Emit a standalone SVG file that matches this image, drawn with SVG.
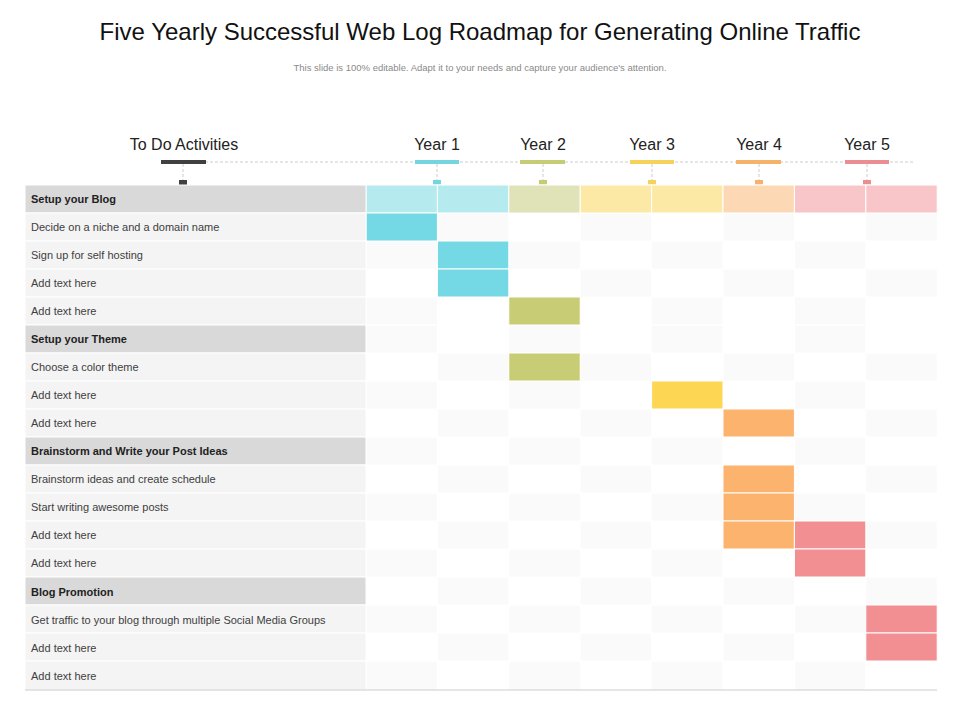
<svg xmlns="http://www.w3.org/2000/svg" width="960" height="720" viewBox="0 0 960 720">
<style>
text{font-family:"Liberation Sans",Arial,sans-serif}
.t{font-size:11px;fill:#404040}
.h{font-size:11px;font-weight:bold;fill:#222}
.y{font-size:16px;fill:#222;text-anchor:middle}
.lab{fill:#f4f4f4}
.hd{fill:#d9d9d9}
.a{fill:#fafafa}
.b{fill:#ffffff}
.tick{stroke:#ccc;stroke-dasharray:3 2;stroke-width:1}
</style>
<rect width="960" height="720" fill="#fff"/>
<text x="480" y="40" font-size="24" text-anchor="middle" fill="#111">Five Yearly Successful Web Log Roadmap for Generating Online Traffic</text>
<text x="480" y="71" font-size="9.5" text-anchor="middle" fill="#8a8a8a">This slide is 100% editable.  Adapt it to your needs and capture your audience's attention.</text>

<g id="timeline">
<line x1="205" y1="162" x2="915" y2="162" class="tick"/>
<text x="184" y="150" class="y">To Do Activities</text>
<rect x="161" y="160" width="45" height="4" fill="#404040"/>
<line x1="183" y1="164" x2="183" y2="180" class="tick"/><rect x="179" y="180" width="8" height="5" fill="#404040"/>
<text x="437" y="150" class="y">Year 1</text>
<rect x="415" y="160" width="44" height="4" fill="#74d4e0"/>
<line x1="437" y1="164" x2="437" y2="180" class="tick"/><rect x="433" y="180" width="8" height="5" fill="#74d4e0"/>
<text x="543" y="150" class="y">Year 2</text>
<rect x="520" y="160" width="45" height="4" fill="#c5cc76"/>
<line x1="543" y1="164" x2="543" y2="180" class="tick"/><rect x="539" y="180" width="8" height="5" fill="#c5cc76"/>
<text x="652" y="150" class="y">Year 3</text>
<rect x="630" y="160" width="44" height="4" fill="#f5d35a"/>
<line x1="652" y1="164" x2="652" y2="180" class="tick"/><rect x="648" y="180" width="8" height="5" fill="#f5d35a"/>
<text x="759" y="150" class="y">Year 4</text>
<rect x="736" y="160" width="45" height="4" fill="#f5b26a"/>
<line x1="759" y1="164" x2="759" y2="180" class="tick"/><rect x="755" y="180" width="8" height="5" fill="#f5b26a"/>
<text x="867" y="150" class="y">Year 5</text>
<rect x="845" y="160" width="44" height="4" fill="#ea8e92"/>
<line x1="867" y1="164" x2="867" y2="180" class="tick"/><rect x="863" y="180" width="8" height="5" fill="#ea8e92"/>
</g>

<g id="grid" stroke="#fff" stroke-width="1">
<rect x="366" y="185" width="571" height="505" fill="#fff"/>
<!-- checker -->
<g class="a">
<rect x="366" y="241" width="71.4" height="28"/><rect x="508.8" y="241" width="71.4" height="28"/><rect x="651.6" y="241" width="71.4" height="28"/><rect x="794.4" y="241" width="71.4" height="28"/>
<rect x="437.4" y="213" width="71.4" height="28"/><rect x="580.2" y="213" width="71.4" height="28"/><rect x="723" y="213" width="71.4" height="28"/><rect x="865.8" y="213" width="71.4" height="28"/>
<rect x="437.4" y="269" width="71.4" height="28"/><rect x="580.2" y="269" width="71.4" height="28"/><rect x="723" y="269" width="71.4" height="28"/><rect x="865.8" y="269" width="71.4" height="28"/>
<rect x="366" y="297" width="71.4" height="28"/><rect x="508.8" y="297" width="71.4" height="28"/><rect x="651.6" y="297" width="71.4" height="28"/><rect x="794.4" y="297" width="71.4" height="28"/>
<rect x="366" y="325" width="71.4" height="28"/><rect x="508.8" y="325" width="71.4" height="28"/><rect x="651.6" y="325" width="71.4" height="28"/><rect x="794.4" y="325" width="71.4" height="28"/>
<rect x="437.4" y="353" width="71.4" height="28"/><rect x="580.2" y="353" width="71.4" height="28"/><rect x="723" y="353" width="71.4" height="28"/><rect x="865.8" y="353" width="71.4" height="28"/>
<rect x="366" y="381" width="71.4" height="28"/><rect x="508.8" y="381" width="71.4" height="28"/><rect x="651.6" y="381" width="71.4" height="28"/><rect x="794.4" y="381" width="71.4" height="28"/>
<rect x="437.4" y="409" width="71.4" height="28"/><rect x="580.2" y="409" width="71.4" height="28"/><rect x="723" y="409" width="71.4" height="28"/><rect x="865.8" y="409" width="71.4" height="28"/>
<rect x="366" y="437" width="71.4" height="28"/><rect x="508.8" y="437" width="71.4" height="28"/><rect x="651.6" y="437" width="71.4" height="28"/><rect x="794.4" y="437" width="71.4" height="28"/>
<rect x="437.4" y="465" width="71.4" height="28"/><rect x="580.2" y="465" width="71.4" height="28"/><rect x="723" y="465" width="71.4" height="28"/><rect x="865.8" y="465" width="71.4" height="28"/>
<rect x="366" y="493" width="71.4" height="28"/><rect x="508.8" y="493" width="71.4" height="28"/><rect x="651.6" y="493" width="71.4" height="28"/><rect x="794.4" y="493" width="71.4" height="28"/>
<rect x="437.4" y="521" width="71.4" height="28"/><rect x="580.2" y="521" width="71.4" height="28"/><rect x="723" y="521" width="71.4" height="28"/><rect x="865.8" y="521" width="71.4" height="28"/>
<rect x="366" y="549" width="71.4" height="28"/><rect x="508.8" y="549" width="71.4" height="28"/><rect x="651.6" y="549" width="71.4" height="28"/><rect x="794.4" y="549" width="71.4" height="28"/>
<rect x="437.4" y="577" width="71.4" height="28"/><rect x="580.2" y="577" width="71.4" height="28"/><rect x="723" y="577" width="71.4" height="28"/><rect x="865.8" y="577" width="71.4" height="28"/>
<rect x="366" y="605" width="71.4" height="28"/><rect x="508.8" y="605" width="71.4" height="28"/><rect x="651.6" y="605" width="71.4" height="28"/><rect x="794.4" y="605" width="71.4" height="28"/>
<rect x="437.4" y="633" width="71.4" height="28"/><rect x="580.2" y="633" width="71.4" height="28"/><rect x="723" y="633" width="71.4" height="28"/><rect x="865.8" y="633" width="71.4" height="28"/>
<rect x="366" y="661" width="71.4" height="29"/><rect x="508.8" y="661" width="71.4" height="29"/><rect x="651.6" y="661" width="71.4" height="29"/><rect x="794.4" y="661" width="71.4" height="29"/>
</g>
<!-- header colour row -->
<rect x="366" y="185" width="71.4" height="28" fill="#b5eaef"/>
<rect x="437.4" y="185" width="71.4" height="28" fill="#b5eaef"/>
<rect x="508.8" y="185" width="71.4" height="28" fill="#e0e2b8"/>
<rect x="580.2" y="185" width="71.4" height="28" fill="#fde9a6"/>
<rect x="651.6" y="185" width="71.4" height="28" fill="#fde9a6"/>
<rect x="723" y="185" width="71.4" height="28" fill="#fcd9b4"/>
<rect x="794.4" y="185" width="71.4" height="28" fill="#f8c6c8"/>
<rect x="865.8" y="185" width="71.4" height="28" fill="#f8c6c8"/>
</g>

<g id="bars" stroke="#fff" stroke-width="1">
<rect x="366" y="213" width="71.4" height="28" fill="#74d9e4"/>
<rect x="437.4" y="241" width="71.4" height="28" fill="#74d9e4"/>
<rect x="437.4" y="269" width="71.4" height="28" fill="#74d9e4"/>
<rect x="508.8" y="297" width="71.4" height="28" fill="#c8cc74"/>
<rect x="508.8" y="353" width="71.4" height="28" fill="#c8cc74"/>
<rect x="651.6" y="381" width="71.4" height="28" fill="#fdd753"/>
<rect x="723" y="409" width="71.4" height="28" fill="#fbb36e"/>
<rect x="723" y="465" width="71.4" height="28" fill="#fbb36e"/>
<rect x="723" y="493" width="71.4" height="28" fill="#fbb36e"/>
<rect x="723" y="521" width="71.4" height="28" fill="#fbb36e"/>
<rect x="794.4" y="521" width="71.4" height="28" fill="#f28f93"/>
<rect x="794.4" y="549" width="71.4" height="28" fill="#f28f93"/>
<rect x="865.8" y="605" width="71.4" height="28" fill="#f28f93"/>
<rect x="865.8" y="633" width="71.4" height="28" fill="#f28f93"/>
</g>

<g id="labels" stroke="#fff" stroke-width="1">
<rect x="25" y="185" width="341" height="28" class="hd"/>
<rect x="25" y="213" width="341" height="28" class="lab"/>
<rect x="25" y="241" width="341" height="28" class="lab"/>
<rect x="25" y="269" width="341" height="28" class="lab"/>
<rect x="25" y="297" width="341" height="28" class="lab"/>
<rect x="25" y="325" width="341" height="28" class="hd"/>
<rect x="25" y="353" width="341" height="28" class="lab"/>
<rect x="25" y="381" width="341" height="28" class="lab"/>
<rect x="25" y="409" width="341" height="28" class="lab"/>
<rect x="25" y="437" width="341" height="28" class="hd"/>
<rect x="25" y="465" width="341" height="28" class="lab"/>
<rect x="25" y="493" width="341" height="28" class="lab"/>
<rect x="25" y="521" width="341" height="28" class="lab"/>
<rect x="25" y="549" width="341" height="28" class="lab"/>
<rect x="25" y="577" width="341" height="28" class="hd"/>
<rect x="25" y="605" width="341" height="28" class="lab"/>
<rect x="25" y="633" width="341" height="28" class="lab"/>
<rect x="25" y="661" width="341" height="29" class="lab"/>
</g>
<line x1="25" y1="690" x2="937" y2="690" stroke="#ccc" stroke-width="1"/>

<g id="text">
<text x="31" y="203" class="h">Setup your Blog</text>
<text x="31" y="231" class="t" font-size="10">Decide on a niche and a domain name</text>
<text x="31" y="259" class="t" font-size="10">Sign up for self hosting</text>
<text x="31" y="287" class="t" font-size="10">Add text here</text>
<text x="31" y="315" class="t" font-size="10">Add text here</text>
<text x="31" y="343" class="h">Setup your Theme</text>
<text x="31" y="371" class="t" font-size="10">Choose a color theme</text>
<text x="31" y="399" class="t" font-size="10">Add text here</text>
<text x="31" y="427" class="t" font-size="10">Add text here</text>
<text x="31" y="455" class="h">Brainstorm and Write your Post Ideas</text>
<text x="31" y="483" class="t" font-size="10">Brainstorm ideas and create schedule</text>
<text x="31" y="511" class="t" font-size="10">Start writing awesome posts</text>
<text x="31" y="539" class="t" font-size="10">Add text here</text>
<text x="31" y="567" class="t" font-size="10">Add text here</text>
<text x="31" y="596" class="h">Blog Promotion</text>
<text x="31" y="624" class="t" font-size="10">Get traffic to your blog through multiple Social Media Groups</text>
<text x="31" y="652" class="t" font-size="10">Add text here</text>
<text x="31" y="680" class="t" font-size="10">Add text here</text>
</g>
</svg>
